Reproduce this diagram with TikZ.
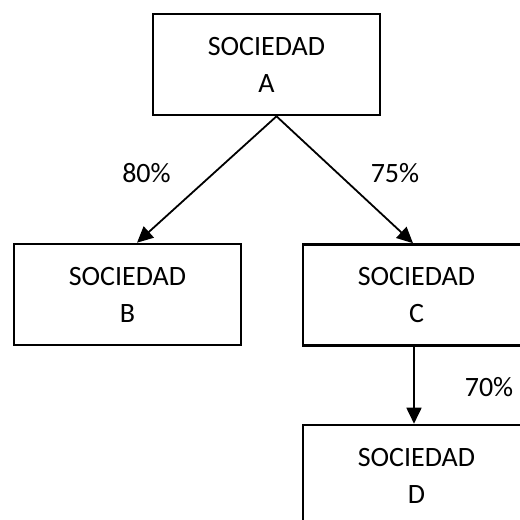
\documentclass[tikz,border=0pt]{standalone}
\usepackage{fontspec}
\setmainfont{Carlito}
\usetikzlibrary{arrows.meta}
\begin{document}
\begin{tikzpicture}[x=1pt,y=-1pt,
  soc/.style={draw, line width=2.6pt, rectangle, minimum width=227pt, minimum height=101pt,
    align=center, inner sep=0pt, font=\fontsize{28}{37}\selectfont},
  pct/.style={font=\fontsize{28}{34}\selectfont, inner sep=0pt},
  conn/.style={line width=1.8pt, -{Triangle[length=16pt,width=15pt]}}]
\useasboundingbox (0,0) rectangle (520,520);
\clip (0,0) rectangle (520,520);
\node[soc] (A) at (266.5,64.5) {SOCIEDAD\\A};
\node[soc] (B) at (127.5,294.5) {SOCIEDAD\\B};
\node[soc] (C) at (416.5,295) {SOCIEDAD\\C};
\node[soc] (D) at (416.5,475.5) {SOCIEDAD\\D};
\node[pct] (p80) at (146.5,173) {80\%};
\node[pct] (p75) at (395,173) {75\%};
\node[pct] (p70) at (489,387) {70\%};
\draw[conn] ([xshift=10pt]A.south) -- ([xshift=9.5pt]B.north);
\draw[conn] ([xshift=10pt]A.south) -- ([xshift=-3.5pt]C.north);
\draw[conn] ([xshift=-2.5pt]C.south) -- ([xshift=-2.5pt]D.north);
\end{tikzpicture}
\end{document}
